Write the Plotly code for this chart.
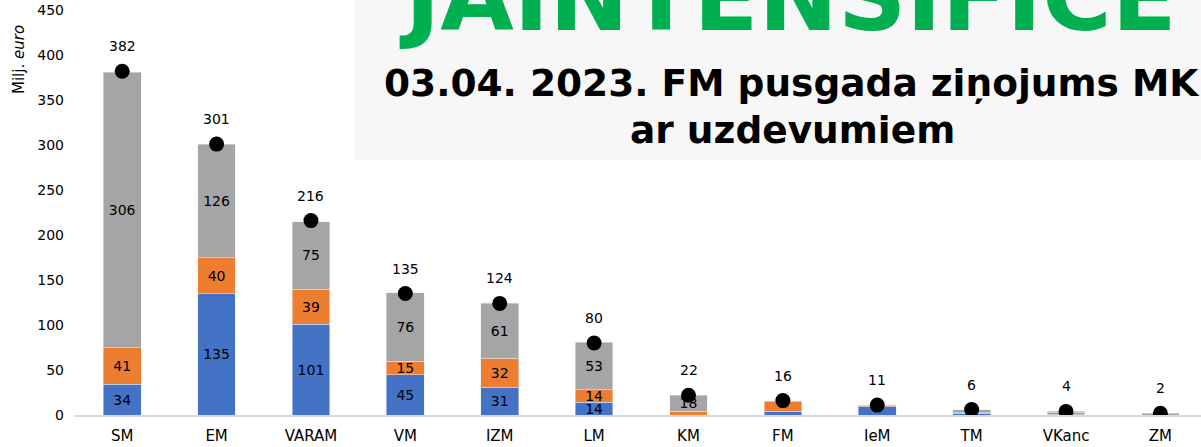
import plotly.graph_objects as go

ministries = ["SM", "EM", "VARAM", "VM", "IZM", "LM", "KM", "FM", "IeM", "TM", "VKanc", "ZM"]
blue_vals = [34, 135, 101, 45, 31, 14, 0, 4, 9, 2, 1, 0]
orange_vals = [41, 40, 39, 15, 32, 14, 4, 11, 2, 0.5, 2, 0]
grey_vals = [306, 126, 75, 76, 61, 53, 18, 1, 0.5, 3.5, 1, 2]
totals = [382, 301, 216, 135, 124, 80, 22, 16, 11, 6, 4, 2]
y_ticks = [0, 50, 100, 150, 200, 250, 300, 350, 400, 450]

FONT = "DejaVu Sans"


def seg_labels(vals):
    return [str(round(v)) if v >= 14 else "" for v in vals]


def py(pixel_y):
    # pixel row (from top) -> paper y
    return (415 - pixel_y) / 405


def px(pixel_x):
    return (pixel_x - 75) / 1126


fig = go.Figure()
for vals, color in [(blue_vals, "#4472c4"), (orange_vals, "#ed7d31"), (grey_vals, "#a5a5a5")]:
    fig.add_trace(go.Bar(
        x=ministries, y=vals, marker_color=color, width=0.4,
        text=seg_labels(vals), textposition="inside", insidetextanchor="middle",
        textangle=0, textfont=dict(family=FONT, size=14, color="#000000"),
        constraintext="none",
    ))

fig.add_trace(go.Scatter(
    x=ministries, y=totals, mode="markers",
    marker=dict(color="#000000", size=15),
))

for m, t in zip(ministries, totals):
    fig.add_annotation(x=m, y=t, text=str(t), showarrow=False, yshift=25,
                       font=dict(family=FONT, size=14, color="#000000"))

# grey title box
fig.add_shape(type="rect", xref="paper", yref="paper", x0=px(355), x1=1.01, y0=py(160), y1=py(-5),
              fillcolor="#f7f7f7", line_width=0, layer="below")

fig.add_annotation(xref="paper", yref="paper", x=px(788), y=py(-3), text="<b>JAINTENSIFICE</b>",
                   showarrow=False, xanchor="center", yanchor="middle",
                   font=dict(family=FONT, size=95, color="#00b050"))
fig.add_annotation(xref="paper", yref="paper", x=px(792), y=py(83),
                   text="<b>03.04. 2023. FM pusgada ziņojums MK</b>",
                   showarrow=False, xanchor="center", yanchor="middle",
                   font=dict(family=FONT, size=37.5, color="#000000"))
fig.add_annotation(xref="paper", yref="paper", x=px(792), y=py(130),
                   text="<b>ar uzdevumiem</b>",
                   showarrow=False, xanchor="center", yanchor="middle",
                   font=dict(family=FONT, size=37.5, color="#000000"))

fig.add_annotation(xref="paper", yref="paper", x=px(19), y=py(60),
                   text="Milj. <i>euro</i>", textangle=-90, showarrow=False,
                   xanchor="center", yanchor="middle",
                   font=dict(family=FONT, size=15, color="#000000"))

fig.update_layout(
    width=1201, height=447,
    margin=dict(l=75, r=0, t=10, b=32),
    barmode="stack", showlegend=False,
    plot_bgcolor="#ffffff", paper_bgcolor="#ffffff",
    uniformtext=dict(minsize=14, mode="show"),
    font=dict(family=FONT, size=14, color="#000000"),
)
fig.update_xaxes(range=[-0.5, 11.43], showline=True, linecolor="#d9d9d9", linewidth=2,
                 showgrid=False, ticks="", ticklabelstandoff=6, tickfont=dict(size=15))
fig.update_yaxes(range=[0, 450], tickvals=y_ticks, showgrid=False, zeroline=False,
                 showline=False, ticks="", ticklabelstandoff=10, tickfont=dict(size=14))

fig.write_html("out.html", config={"displayModeBar": False},
               post_script="document.body.style.margin='0px';")
